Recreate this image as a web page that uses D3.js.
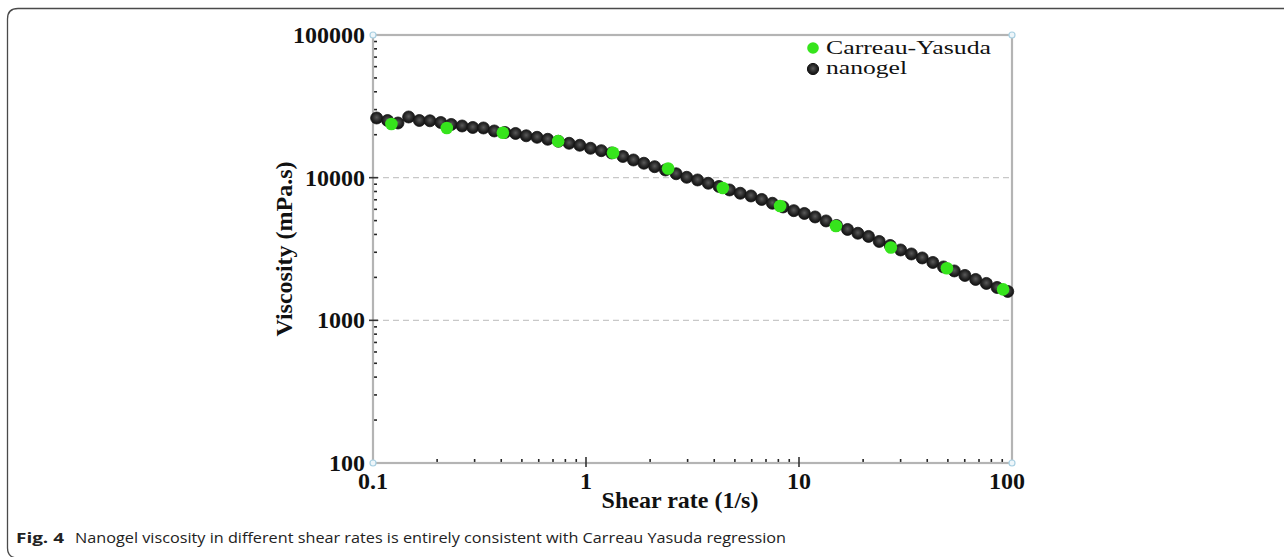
<!DOCTYPE html>
<html>
<head>
<meta charset="utf-8">
<script src="https://cdn.jsdelivr.net/npm/d3@7"></script>
<style>
  html, body { margin: 0; padding: 0; background: #fff; }
  svg { display: block; }
</style>
</head>
<body>
<svg id="chart" width="1284" height="557"></svg>
<script>
// ---------- data ----------
const nanogelShear = [0.104, 0.117, 0.131, 0.147, 0.165, 0.185, 0.208, 0.233, 0.262, 0.294,
  0.330, 0.371, 0.416, 0.467, 0.524, 0.589, 0.661, 0.742, 0.833, 0.935,
  1.05, 1.18, 1.32, 1.49, 1.67, 1.87, 2.10, 2.36, 2.65, 2.97,
  3.34, 3.75, 4.21, 4.72, 5.30, 5.95, 6.68, 7.50, 8.42, 9.45,
  10.6, 11.9, 13.4, 15.0, 16.9, 18.9, 21.2, 23.8, 26.8, 30.0,
  33.7, 37.9, 42.5, 47.7, 53.6, 60.1, 67.5, 75.8, 85.1, 95.5];
const nanogelViscosity = [26200, 25160, 24170, 26630, 25160, 25040, 24360, 23600, 23030, 22480,
  22300, 21250, 20740, 20410, 19660, 19190, 18580, 17990, 17420, 16870,
  16070, 15460, 14900, 14080, 13300, 12620, 11940, 11320, 10650, 10060,
  9636, 9136, 8680, 8200, 7776, 7444, 7035, 6616, 6234, 5871,
  5612, 5305, 4975, 4624, 4335, 4078, 3873, 3573, 3349, 3114,
  2919, 2737, 2545, 2367, 2219, 2064, 1934, 1814, 1700, 1594];
const cyShear = [0.122, 0.222, 0.407, 0.740, 1.34, 2.43, 4.39, 8.15, 14.9, 27.0, 49.5, 90.8];
const cyViscosity = [23780, 22300, 20660, 18030, 14950, 11600, 8470, 6335, 4587, 3243, 2318, 1647];
const xTicks = [0.1, 1, 10, 100];
const xTickLabels = ["0.1", "1", "10", "100"];
const yTicks = [100, 1000, 10000, 100000];
const yTickLabels = ["100", "1000", "10000", "100000"];
const gridValues = [1000, 10000];
const seriesNames = ["Carreau-Yasuda", "nanogel"];
const xTitle = "Shear rate (1/s)";
const yTitle = "Viscosity (mPa.s)";
const captionBold = "Fig. 4";
const captionText = "Nanogel viscosity in different shear rates is entirely consistent with Carreau Yasuda regression";

// ---------- layout ----------
const L = 373, R = 1012, T = 35, B = 463;
const svg = d3.select("#chart");
const x = d3.scaleLog().domain([0.1, 100]).range([L, R]);
const y = d3.scaleLog().domain([100, 100000]).range([B, T]);
const serif = "'Liberation Serif', 'Times New Roman', serif";
const green = "#36e41c";

// outer frame (open on the right)
svg.append("path")
  .attr("d", "M1284,8.5 L18,8.5 Q7.5,8.5 7.5,19 L7.5,548 Q7.5,558 18,558 L1284,558")
  .attr("fill", "none").attr("stroke", "#4a4a4a").attr("stroke-width", 1.3);

const defs = svg.append("defs");
const grad = defs.append("radialGradient").attr("id", "blackDot").attr("cx", "50%").attr("cy", "45%").attr("r", "55%");
grad.append("stop").attr("offset", "0%").attr("stop-color", "#5a5a5a");
grad.append("stop").attr("offset", "55%").attr("stop-color", "#2b2b2b");
grad.append("stop").attr("offset", "100%").attr("stop-color", "#0e0e0e");

// gridlines
svg.append("g").selectAll("line").data(gridValues).join("line")
  .attr("x1", L).attr("x2", R).attr("y1", d => y(d)).attr("y2", d => y(d))
  .attr("stroke", "#c8c8c8").attr("stroke-width", 1.2).attr("stroke-dasharray", "6,4");

// minor ticks
const minorY = [];
for (let e = 2; e < 5; e++) for (let m = 2; m <= 9; m++) minorY.push(m * Math.pow(10, e));
const minorX = [];
for (let e = -1; e < 2; e++) for (let m = 2; m <= 9; m++) minorX.push(m * Math.pow(10, e));

svg.append("g").selectAll("line").data(minorY).join("line")
  .attr("x1", L + 1).attr("x2", L + 4).attr("y1", d => y(d)).attr("y2", d => y(d))
  .attr("stroke", "#222").attr("stroke-width", 1.6);
svg.append("g").selectAll("line").data(minorX).join("line")
  .attr("x1", d => x(d)).attr("x2", d => x(d)).attr("y1", B - 4).attr("y2", B - 1)
  .attr("stroke", "#222").attr("stroke-width", 1.6);

// axes frame (light gray)
svg.append("rect").attr("x", L).attr("y", T).attr("width", R - L).attr("height", B - T)
  .attr("fill", "none").attr("stroke", "#b4b4b4").attr("stroke-width", 2.2);

// major ticks
svg.append("g").selectAll("line").data([1000, 10000]).join("line")
  .attr("x1", L - 4).attr("x2", L + 5).attr("y1", d => y(d)).attr("y2", d => y(d))
  .attr("stroke", "#333").attr("stroke-width", 1.6);
svg.append("g").selectAll("line").data([1, 10]).join("line")
  .attr("x1", d => x(d)).attr("x2", d => x(d)).attr("y1", B - 6).attr("y2", B + 4)
  .attr("stroke", "#333").attr("stroke-width", 1.6);

// corner markers
svg.append("g").selectAll("circle").data([[0.1, 100], [0.1, 100000], [100, 100], [100, 100000]]).join("circle")
  .attr("cx", d => x(d[0])).attr("cy", d => y(d[1])).attr("r", 3)
  .attr("fill", "#eef6fa").attr("stroke", "#a9d0e2").attr("stroke-width", 1.2);

// tick labels
svg.append("g").selectAll("text").data(yTicks).join("text")
  .attr("x", L - 8).attr("y", d => y(d) + 8)
  .attr("text-anchor", "end").attr("font-family", serif).attr("font-weight", "bold")
  .attr("font-size", 24).attr("fill", "#111")
  .text((d, i) => yTickLabels[i]);
svg.append("g").selectAll("text").data(xTicks).join("text")
  .attr("x", (d, i) => x(d) - (i === 3 ? 5 : 0)).attr("y", B + 26)
  .attr("text-anchor", "middle").attr("font-family", serif).attr("font-weight", "bold")
  .attr("font-size", 24).attr("fill", "#111")
  .text((d, i) => xTickLabels[i]);

// axis titles
svg.append("text").attr("x", 680).attr("y", 508)
  .attr("text-anchor", "middle").attr("font-family", serif).attr("font-weight", "bold")
  .attr("font-size", 24).attr("fill", "#111").text(xTitle);
svg.append("text").attr("transform", "translate(292,249) rotate(-90)")
  .attr("text-anchor", "middle").attr("font-family", serif).attr("font-weight", "bold")
  .attr("font-size", 24).attr("fill", "#111").text(yTitle);

// nanogel series
const nano = nanogelShear.map((s, i) => [s, nanogelViscosity[i]]);
svg.append("path").datum(nano)
  .attr("d", d3.line().x(d => x(d[0])).y(d => y(d[1])))
  .attr("fill", "none").attr("stroke", "#666").attr("stroke-width", 2);
svg.append("g").selectAll("circle").data(nano).join("circle")
  .attr("cx", d => x(d[0])).attr("cy", d => y(d[1])).attr("r", 6)
  .attr("fill", "url(#blackDot)").attr("stroke", "#151515").attr("stroke-width", 0.8);

// Carreau-Yasuda series
const cy = cyShear.map((s, i) => [s, cyViscosity[i]]);
svg.append("g").selectAll("circle").data(cy).join("circle")
  .attr("cx", d => x(d[0])).attr("cy", d => y(d[1])).attr("r", 6.3)
  .attr("fill", green);

// legend
const lg = svg.append("g");
lg.append("circle").attr("cx", 813).attr("cy", 48).attr("r", 5.8).attr("fill", green);
lg.append("circle").attr("cx", 813).attr("cy", 69).attr("r", 5.6).attr("fill", "url(#blackDot)").attr("stroke", "#151515");
lg.append("text").attr("x", 826).attr("y", 54).attr("font-family", serif).attr("font-size", 18.5)
  .attr("textLength", 165).attr("lengthAdjust", "spacingAndGlyphs").attr("fill", "#111").text(seriesNames[0]);
lg.append("text").attr("x", 826).attr("y", 74).attr("font-family", serif).attr("font-size", 18.5)
  .attr("textLength", 81).attr("lengthAdjust", "spacingAndGlyphs").attr("fill", "#111").text(seriesNames[1]);

// caption
const cap = svg.append("text").attr("x", 16).attr("y", 543)
  .attr("font-family", "'Open Sans', 'Noto Sans', sans-serif").attr("font-size", 14.5).attr("fill", "#222");
cap.append("tspan").attr("font-weight", "bold").attr("textLength", 48).attr("lengthAdjust", "spacingAndGlyphs").text(captionBold);
cap.append("tspan").attr("x", 75).attr("textLength", 711).attr("lengthAdjust", "spacingAndGlyphs").text(captionText);
</script>
</body>
</html>
